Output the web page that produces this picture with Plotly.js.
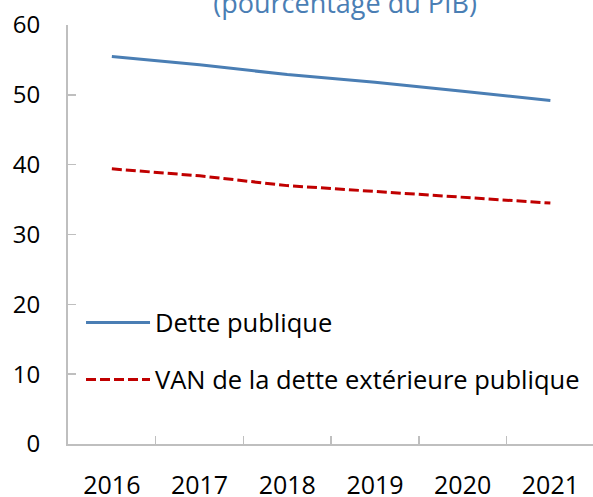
<!DOCTYPE html>
<html>
<head>
<meta charset="utf-8">
<script src="https://cdn.plot.ly/plotly-3.0.1.min.js"></script>
<style>html,body{margin:0;padding:0;background:#fff;}#chart{width:593px;height:497px;}</style>
</head>
<body>
<div id="chart"></div>
<script>
const years = ["2016", "2017", "2018", "2019", "2020", "2021"];
const detteValues = [55.5, 54.3, 52.9, 51.8, 50.5, 49.2];
const vanValues = [39.4, 38.4, 37.0, 36.2, 35.4, 34.5];
const seriesNames = ["Dette publique", "VAN de la dette extérieure publique"];
const titleText = "(pourcentage du PIB)";

const FONT = "'Open Sans', 'Noto Sans', sans-serif";

const traces = [
  {x: years, y: detteValues, name: seriesNames[0], type: "scatter", mode: "lines",
   line: {color: "#4a7eb4", width: 3}, legend: "legend"},
  {x: years, y: vanValues, name: seriesNames[1], type: "scatter", mode: "lines",
   line: {color: "#c00000", width: 3, dash: "10px,4px"}, legend: "legend2"}
];

const legendBase = {xanchor: "left", yanchor: "middle", bgcolor: "rgba(0,0,0,0)",
  font: {family: FONT, size: 25.5, color: "#000"}, itemwidth: 64, borderwidth: 0};

const layout = {
  width: 593, height: 497,
  margin: {l: 68, r: 0, t: 25, b: 53, pad: 0},
  paper_bgcolor: "#fff", plot_bgcolor: "#fff",
  font: {family: FONT, size: 24, color: "#000"},
  title: {text: titleText, font: {family: FONT, size: 27, color: "#4a7eb4"},
          x: 0.582, xref: "container", xanchor: "center", y: 0.993, yref: "container", yanchor: "middle", pad: {t: 0}},
  showlegend: true,
  legend: Object.assign({x: 0.0248, y: 0.289}, legendBase),
  legend2: Object.assign({x: 0.0248, y: 0.153}, legendBase),
  xaxis: {type: "category", range: [-0.5, 5.486], showgrid: false, zeroline: false, showline: true,
          linecolor: "#bfbfbf", linewidth: 2, ticks: "inside", ticklen: 8, tickcolor: "#bfbfbf",
          tickwidth: 1.5, tickson: "boundaries", ticklabelstandoff: 18,
          tickfont: {family: FONT, size: 25, color: "#000"}, fixedrange: true},
  yaxis: {range: [0, 60], dtick: 10, showgrid: false, zeroline: false, showline: true,
          linecolor: "#bfbfbf", linewidth: 2, ticks: "inside", ticklen: 8, tickcolor: "#bfbfbf",
          tickwidth: 1.5, ticklabelstandoff: 21,
          tickfont: {family: FONT, size: 24, color: "#000"}, fixedrange: true}
};

Plotly.newPlot("chart", traces, layout, {displayModeBar: false, staticPlot: true});
</script>
</body>
</html>
